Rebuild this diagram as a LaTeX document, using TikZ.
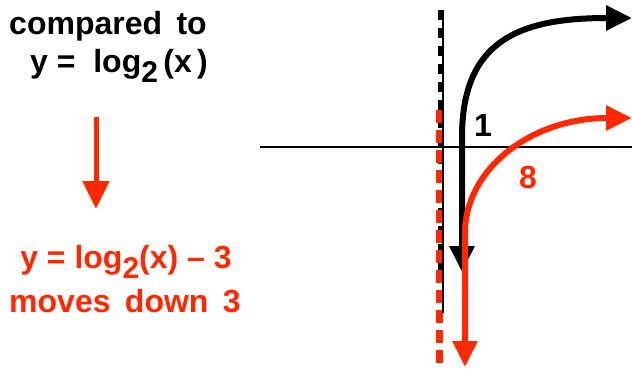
\documentclass[tikz,border=0pt]{standalone}
\usepackage{fontspec}
\setmainfont{Liberation Sans}
\usetikzlibrary{arrows.meta}
\definecolor{ored}{RGB}{255,40,0}
\tikzset{
  txt/.style={inner sep=0pt, font=\fontsize{32}{36}\selectfont\bfseries},
  curve/.style={line width=6pt, {Triangle[length=26pt,width=24pt]}-{Triangle[length=26pt,width=24pt]}},
}
\newcommand{\subtwo}{\raisebox{-0.32em}{\fontsize{30}{30}\selectfont 2}}
\newcommand{\wsp}{\hspace{0.45em}}
\begin{document}
\begin{tikzpicture}[x=1pt,y=-1pt]
\useasboundingbox (0,0) rectangle (632,368);
% axes
\coordinate (yt) at (443,10);
\coordinate (yb) at (443,313);
\coordinate (xl) at (260,147);
\coordinate (xr) at (632,147);
\draw[line width=1.5pt] (xl) -- (xr);
% asymptotes
\coordinate (bdt) at (440.5,10);
\coordinate (bdb) at (440.5,275);
\coordinate (rdt) at (439,110);
\coordinate (rdb) at (439,368);
\draw[line width=4.5pt, dash pattern=on 10pt off 8pt] (bdt) -- (bdb);
\draw[ored, line width=7pt, dash pattern=on 13pt off 7pt] (rdt) -- (rdb);
\draw[line width=1.5pt] (yt) -- (yb);
% black curve
\coordinate (b0) at (462,272);
\coordinate (b1) at (462,137);
\coordinate (b2) at (632,18);
\draw[curve] (b0) -- (b1) .. controls (462,40) and (520,18) .. (b2);
% red curve
\coordinate (r0) at (465,367);
\coordinate (r1) at (465,233);
\coordinate (r2) at (632,118);
\draw[curve, ored] (r0) -- (r1) .. controls (465,170) and (530,118) .. (r2);
% labels
\node[txt] (one) at (483,125) {1};
\node[txt, text=ored] (eight) at (528,177) {8};
% left text
\node[txt] (cmp) at (108,26) {compared\wsp to};
\node[txt] (eqa) at (119,66) {y =\ \ log\subtwo\,(x\,)};
\node[txt, text=ored] (eqb) at (126,262) {y = log\subtwo(x) -- 3};
\node[txt, text=ored] (mov) at (125,301) {moves\wsp down\wsp 3};
\coordinate (a1) at (96,117);
\coordinate (a2) at (96,209);
\draw[ored, line width=5pt, -{Triangle[length=28pt,width=26pt]}] (a1) -- (a2);
\end{tikzpicture}
\end{document}
